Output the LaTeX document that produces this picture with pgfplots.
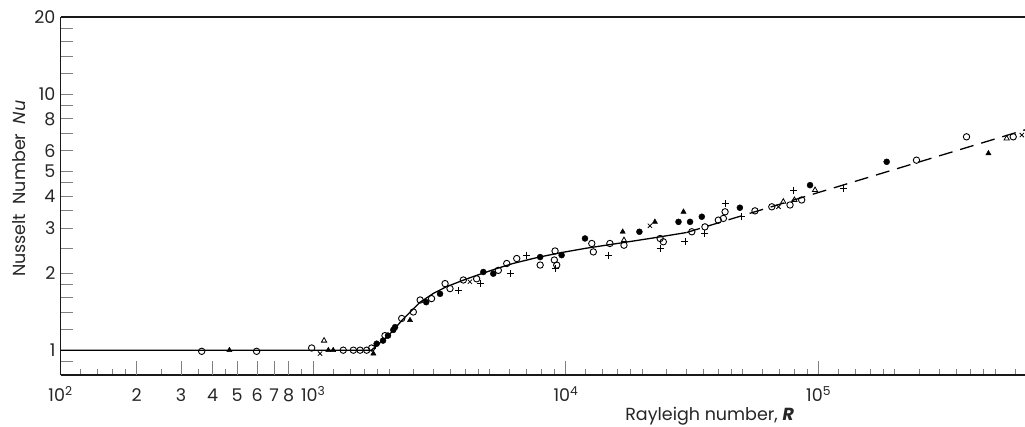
\documentclass[border=0pt]{standalone}
\usepackage{fontspec}
\setmainfont{Poppins}
\usepackage{pgfplots}
\pgfplotsset{compat=1.18}
\begin{document}
\begin{tikzpicture}
\begin{axis}[
  scale only axis, width=964.5pt, height=358pt,
  xmode=log, ymode=log,
  xmin=100, xmax=656000, ymin=0.8, ymax=20,
  axis x line*=box, axis y line*=left,
  xtick pos=left, ytick pos=left,
  axis line style={line width=1.2pt, black!90},
  /pgf/number format/assume math mode=true,
  xtick={100,1000,10000,100000},
  xticklabels={10\textsuperscript{2},10\textsuperscript{3},10\textsuperscript{4},10\textsuperscript{5}},
  minor xtick={120,140,160,180,200,250,300,350,400,450,500,600,700,800,900,
    1200,1400,1600,1800,2000,2500,3000,3500,4000,4500,5000,6000,7000,8000,9000,
    12000,14000,16000,18000,20000,25000,30000,35000,40000,45000,50000,60000,70000,80000,90000,
    120000,140000,160000,180000,200000,250000,300000,350000,400000,450000,500000,600000},
  extra x ticks={200,300,400,500,600,700,800},
  extra x tick labels={2,3,4,5,6,7,8},
  extra x tick style={/pgfplots/major tick length=6pt},
  xtick style={/pgfplots/major tick length=14pt, /pgfplots/minor tick length=6pt, line width=0.9pt},
  ytick={1,2,3,4,5,6,8,10,20},
  yticklabels={1,2,3,4,5,6,8,10,20},
  minor ytick={0.9,1.2,1.4,1.6,1.8,2.5,3.5,4.5,7,9,12,14,16,18},
  ytick style={/pgfplots/major tick length=12pt, /pgfplots/minor tick length=12pt, line width=0.9pt},
  tick label style={font=\fontsize{17.5}{17.5}\selectfont, text=black!85},
  xticklabel style={anchor=base, yshift=-26.5pt},
  yticklabel style={anchor=east, xshift=-1.5pt},
  xlabel={Rayleigh number, \textit{\textbf{R}}},
  xlabel style={at={(axis description cs:0.673,-0.1257)}, anchor=base, font=\fontsize{17.5}{17.5}\selectfont, text=black!85},
  ylabel={Nusselt\ \ Number\ \ \textit{Nu}},
  ylabel style={at={(axis description cs:-0.043,0.52)}, anchor=center, font=\fontsize{17.5}{17.5}\selectfont, text=black!85},
  clip=true,
]
% solid curve
\addplot[black, line width=1.3pt] coordinates {
 (100,1) (1700,1) (1800,1.05) (2000,1.15) (2265,1.32) (2650,1.54) (3000,1.67) (3370,1.77)
 (4000,1.89) (4570,1.98) (5300,2.08) (6170,2.18) (7690,2.3) (9480,2.4) (12000,2.5)
 (16400,2.62) (22000,2.74) (30000,2.88)};
% dashed extension
\addplot[black, line width=1.3pt, dash pattern=on 14pt off 8pt] coordinates {
 (30000,2.88) (656000,7.25)};
% open circles
\addplot[only marks, mark=o, mark size=3.2pt, mark options={line width=0.9pt, black, fill=white}] coordinates {
 (362,0.99) (597,0.99) (986,1.02) (1315,1.0) (1442,1.0) (1533,1.0) (1628,1.0) (1703,1.02)
 (1923,1.14) (2240,1.33) (2490,1.41) (2650,1.57) (2940,1.59) (3326,1.82) (3478,1.74)
 (3928,1.88) (4434,1.9) (5403,2.05) (5833,2.18) (6390,2.28) (7910,2.15) (9060,2.44)
 (9200,2.15) (9000,2.25) (12660,2.61) (12840,2.42) (14930,2.61) (16980,2.57) (23600,2.73)
 (24300,2.65) (31500,2.9) (35500,3.03) (40100,3.22) (42000,3.27) (42650,3.47) (56000,3.5)
 (65300,3.63) (77100,3.69) (85700,3.86) (244000,5.52) (385000,6.81) (589000,6.81)};
% filled circles
\addplot[only marks, mark=*, mark size=3pt, mark options={black}] coordinates {
 (1783,1.06) (1890,1.09) (1977,1.14) (2075,1.2) (2108,1.23) (2800,1.54) (3177,1.66)
 (4712,2.02) (5161,1.99) (7910,2.31) (9620,2.35) (11900,2.73) (19540,2.9) (27900,3.17)
 (31000,3.17) (34500,3.32) (48800,3.6) (92500,4.41) (186000,5.44)};
% filled triangles
\addplot[only marks, mark=triangle*, mark size=3pt, mark options={black}] coordinates {
 (466,1.0) (1148,1.0) (1200,1.0) (1730,0.97) (2416,1.31) (16780,2.9) (22500,3.17)
 (29200,3.47) (470000,5.87)};
% plus
\addplot[only marks, mark=+, mark size=3.5pt, mark options={line width=0.9pt, black}] coordinates {
 (1770,1.045) (3750,1.71) (4573,1.82) (6010,1.99) (7000,2.35) (9060,2.09) (14710,2.35)
 (23600,2.49) (29600,2.65) (35500,2.86) (42900,3.74) (49600,3.32) (79400,4.22) (125000,4.28)};
% open triangles
\addplot[only marks, mark=triangle, mark size=3pt, mark options={line width=0.8pt, black, fill=white}] coordinates {
 (1104,1.09) (16980,2.69) (72500,3.8) (80200,3.86) (96800,4.22) (555000,6.71)};
% crosses
\addplot[only marks, mark=x, mark size=3pt, mark options={line width=0.8pt, black}] coordinates {
 (1064,0.97) (4170,1.85) (21500,3.06) (69400,3.63) (637000,6.92)};
\end{axis}
\pgfresetboundingbox
\path ([shift={(-60.5pt,-51pt)}]current axis.south west) rectangle ([shift={(0pt,17pt)}]current axis.north east);
\end{tikzpicture}
\end{document}
